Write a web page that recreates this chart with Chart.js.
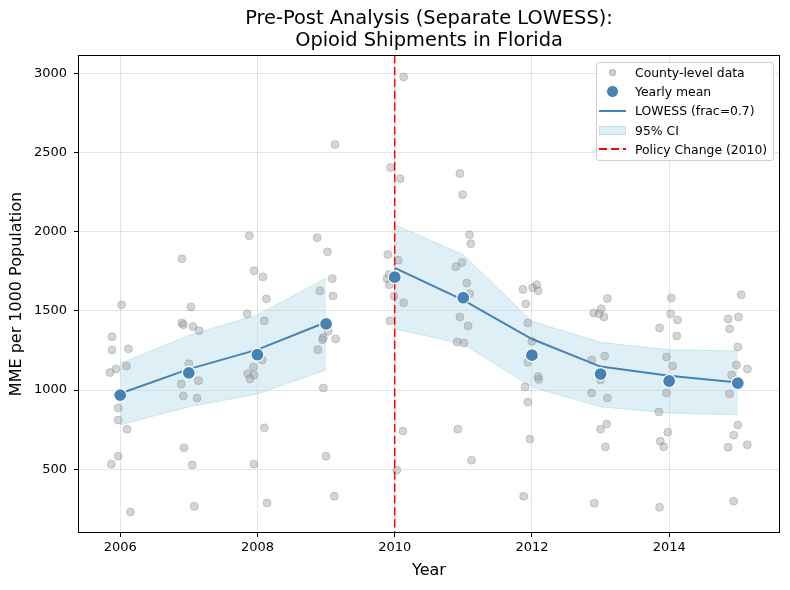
<!DOCTYPE html>
<html>
<head>
<meta charset="utf-8">
<script src="https://cdn.jsdelivr.net/npm/chart.js@4.4.1/dist/chart.umd.min.js"></script>
<style>
    html, body { margin: 0; padding: 0; background: #fff; }
    #wrap { position: relative; width: 790px; height: 590px; font-family: 'DejaVu Sans', sans-serif; color: #000; }
    #title { position: absolute; left: 78px; width: 702px; top: 7px; text-align: center; font-size: 19.4px; line-height: 22px; }
    #legend {
        position: absolute; left: 596px; top: 62px; width: 178px; height: 99px; box-sizing: border-box;
        border: 1px solid #d0d0d0; border-radius: 3px; background: rgba(255, 255, 255, 0.85); font-size: 12.4px;
    }
    .row { display: flex; align-items: center; height: 19.2px; white-space: nowrap; }
    .sw { width: 27px; height: 12px; margin-left: 2px; margin-right: 9px; display: flex; align-items: center; justify-content: center; }
    .dot { width: 7px; height: 7px; border-radius: 50%; background: rgba(150, 150, 150, 0.45); box-sizing: border-box; border: 1px solid rgba(120, 120, 120, 0.35); }
    .big { width: 13px; height: 13px; border-radius: 50%; background: #4682b4; box-sizing: border-box; border: 1px solid #fff; }
    .line { width: 27px; height: 2px; background: #4682b4; }
    .band { width: 27px; height: 9px; background: rgba(173, 216, 230, 0.4); box-sizing: border-box; border: 1px solid rgba(173, 216, 230, 0.6); }
    .dash { width: 27px; height: 2px; background: repeating-linear-gradient(to right, red 0 8px, transparent 8px 12px); }
</style>
</head>
<body>
<div id="wrap">
    <canvas id="chart" width="790" height="590"></canvas>
    <div id="title">Pre-Post Analysis (Separate LOWESS):<br>Opioid Shipments in Florida</div>
    <div id="legend">
        <div class="row"><span class="sw"><span class="dot"></span></span>County-level data</div>
        <div class="row"><span class="sw"><span class="big"></span></span>Yearly mean</div>
        <div class="row"><span class="sw"><span class="line"></span></span>LOWESS (frac=0.7)</div>
        <div class="row"><span class="sw"><span class="band"></span></span>95% CI</div>
        <div class="row"><span class="sw"><span class="dash"></span></span>Policy Change (2010)</div>
    </div>
</div>
<script>
const years = [2006, 2007, 2008, 2009, 2010, 2011, 2012, 2013, 2014, 2015]
const policyYear = 2010

// county points: jittered year and MME value, grouped by year
const countyX = [
    2006.02, 2005.88, 2005.88, 2006.12, 2006.09, 2005.94, 2005.85, 2005.97, 2005.97, 2006.10, 2005.97, 2005.87, 2006.15,
    2006.90, 2007.03, 2006.90, 2006.92, 2007.06, 2007.15, 2007.00, 2006.89, 2007.14, 2006.92, 2007.12, 2006.93, 2007.05, 2007.08,
    2007.88, 2007.95, 2008.08, 2008.13, 2007.85, 2008.10, 2008.07, 2007.94, 2007.86, 2007.95, 2007.89, 2008.10, 2007.95, 2008.14,
    2009.13, 2008.87, 2009.02, 2009.09, 2008.91, 2009.10, 2009.03, 2008.96, 2008.95, 2009.14, 2008.88, 2008.96, 2009.00, 2009.12,
    2010.13, 2009.94, 2010.08, 2009.90, 2010.05, 2009.92, 2009.89, 2009.92, 2009.99, 2010.13, 2009.93, 2010.12, 2010.03,
    2010.95, 2010.99, 2011.09, 2011.11, 2010.98, 2010.89, 2011.05, 2011.09, 2010.95, 2011.07, 2010.91, 2011.01, 2010.92, 2011.12,
    2011.87, 2012.01, 2012.07, 2012.09, 2011.91, 2011.94, 2012.00, 2011.94, 2012.09, 2012.10, 2011.90, 2011.94, 2011.97, 2011.88,
    2013.10, 2012.90, 2012.98, 2013.01, 2013.05, 2012.87, 2013.06, 2013.00, 2012.87, 2013.10, 2013.00, 2013.09, 2013.07, 2012.91,
    2014.03, 2014.02, 2014.12, 2013.86, 2014.11, 2013.96, 2014.05, 2013.96, 2013.85, 2013.98, 2013.87, 2013.92, 2013.86,
    2015.05, 2014.86, 2015.01, 2014.88, 2015.00, 2014.98, 2014.91, 2015.14, 2014.88, 2015.00, 2014.94, 2014.86, 2015.14, 2014.94
]
const countyY = [
    1538, 1337, 1253, 1260, 1152, 1133, 1110, 886, 810, 753, 582, 532, 230,
    1829, 1525, 1424, 1413, 1401, 1375, 1166, 1038, 1059, 962, 949, 635, 527, 266,
    1975, 1753, 1715, 1576, 1481, 1437, 1190, 1146, 1103, 1095, 1070, 761, 532, 287,
    2551, 1962, 1873, 1703, 1627, 1594, 1371, 1331, 1318, 1323, 1255, 1013, 582, 329,
    2977, 2405, 2335, 1856, 1820, 1730, 1703, 1665, 1594, 1551, 1437, 741, 494,
    2367, 2234, 1981, 1924, 1806, 1779, 1676, 1608, 1462, 1405, 1304, 1297, 753, 557,
    1635, 1646, 1665, 1627, 1544, 1424, 1308, 1175, 1086, 1067, 1019, 924, 690, 329,
    1578, 1487, 1481, 1513, 1462, 1190, 1215, 1063, 981, 949, 753, 785, 641, 285,
    1582, 1481, 1443, 1392, 1342, 1209, 1152, 981, 861, 734, 677, 641, 259,
    1601, 1449, 1462, 1386, 1272, 1158, 1095, 1133, 975, 779, 715, 639, 654, 298
]

const yearlyMean = [968, 1108, 1223, 1418, 1713, 1583, 1220, 1101, 1057, 1044]

// separate LOWESS fits before and after the policy year
const preYears = [2006, 2007, 2008, 2009]
const preLowess = [978, 1132, 1255, 1428]
const preUpper = [1168, 1344, 1475, 1706]
const preLower = [780, 894, 975, 1127]

const postYears = [2010, 2011, 2012, 2013, 2014, 2015]
const postLowess = [1772, 1568, 1322, 1148, 1090, 1048]
const postUpper = [2044, 1854, 1434, 1301, 1253, 1247]
const postLower = [1386, 1291, 1019, 894, 855, 844]

const xTicks = [2006, 2008, 2010, 2012, 2014]
const yTicks = [500, 1000, 1500, 2000, 2500, 3000]

const pairs = (xs, ys) => xs.map((x, i) => ({ x: x, y: ys[i] }))

const steel = '#4682b4'
const bandFill = 'rgba(173, 216, 230, 0.4)'
const bandEdge = 'rgba(173, 216, 230, 0.6)'

Chart.defaults.font.family = "'DejaVu Sans', sans-serif"
Chart.defaults.color = '#000'

const policyLine = {
    id: 'policyLine',
    beforeDatasetDraw(chart, args) {
        if (args.index !== 0) return
        const { ctx, chartArea, scales } = chart
        const x = scales.x.getPixelForValue(policyYear)
        ctx.save()
        ctx.strokeStyle = 'red'
        ctx.lineWidth = 1.5
        ctx.setLineDash([8.3, 3.6])
        ctx.beginPath()
        ctx.moveTo(x, chartArea.top)
        ctx.lineTo(x, chartArea.bottom)
        ctx.stroke()
        ctx.restore()
    },
    afterDatasetsDraw(chart) {
        const { ctx, chartArea } = chart
        ctx.save()
        ctx.strokeStyle = '#000'
        ctx.lineWidth = 1
        ctx.strokeRect(chartArea.left + 0.5, chartArea.top + 0.5, chartArea.width - 1, chartArea.height - 1)
        ctx.restore()
    }
}

const chart = new Chart(document.getElementById('chart'), {
    type: 'scatter',
    data: {
        datasets: [
            {
                data: pairs(years, yearlyMean),
                backgroundColor: steel,
                borderColor: '#fff',
                borderWidth: 1.2,
                pointRadius: 6.5,
                order: 0
            },
            {
                data: pairs(preYears, preLowess),
                showLine: true,
                borderColor: steel,
                borderWidth: 2,
                pointRadius: 0,
                order: 1
            },
            {
                data: pairs(postYears, postLowess),
                showLine: true,
                borderColor: steel,
                borderWidth: 2,
                pointRadius: 0,
                order: 1
            },
            {
                data: pairs(countyX, countyY),
                backgroundColor: 'rgba(150, 150, 150, 0.4)',
                borderColor: 'rgba(120, 120, 120, 0.3)',
                borderWidth: 1,
                pointRadius: 4,
                order: 2
            },
            {
                data: pairs(preYears, preLower),
                showLine: true,
                borderColor: bandEdge,
                borderWidth: 1,
                pointRadius: 0,
                order: 3
            },
            {
                data: pairs(preYears, preUpper),
                showLine: true,
                borderColor: bandEdge,
                borderWidth: 1,
                backgroundColor: bandFill,
                fill: 4,
                pointRadius: 0,
                order: 3
            },
            {
                data: pairs(postYears, postLower),
                showLine: true,
                borderColor: bandEdge,
                borderWidth: 1,
                pointRadius: 0,
                order: 3
            },
            {
                data: pairs(postYears, postUpper),
                showLine: true,
                borderColor: bandEdge,
                borderWidth: 1,
                backgroundColor: bandFill,
                fill: 6,
                pointRadius: 0,
                order: 3
            }
        ]
    },
    options: {
        responsive: false,
        animation: false,
        devicePixelRatio: 1,
        layout: { padding: { left: 0, right: 10, top: 55, bottom: 0 } },
        plugins: {
            legend: { display: false },
            tooltip: { enabled: false },
            title: { display: false }
        },
        scales: {
            x: {
                type: 'linear',
                min: 2005.385,
                max: 2015.615,
                afterBuildTicks: scale => { scale.ticks = xTicks.map(v => ({ value: v })) },
                afterFit: scale => { scale.height = 57 },
                ticks: { font: { size: 13 }, padding: 3, maxRotation: 0, callback: v => String(v) },
                grid: { color: 'rgba(0, 0, 0, 0.1)', tickColor: '#000', tickLength: 4 },
                border: { display: false },
                title: { display: true, text: 'Year', font: { size: 16 }, padding: { top: 0, bottom: 10 } }
            },
            y: {
                type: 'linear',
                min: 97,
                max: 3116,
                afterBuildTicks: scale => { scale.ticks = yTicks.map(v => ({ value: v })) },
                afterFit: scale => { scale.width = 78 },
                ticks: { font: { size: 13 }, padding: 7, callback: v => String(v) },
                grid: { color: 'rgba(0, 0, 0, 0.1)', tickColor: '#000', tickLength: 4 },
                border: { display: false },
                title: { display: true, text: 'MME per 1000 Population', font: { size: 16 }, padding: { top: 7, bottom: 0 } }
            }
        }
    },
    plugins: [policyLine]
})
</script>
</body>
</html>
